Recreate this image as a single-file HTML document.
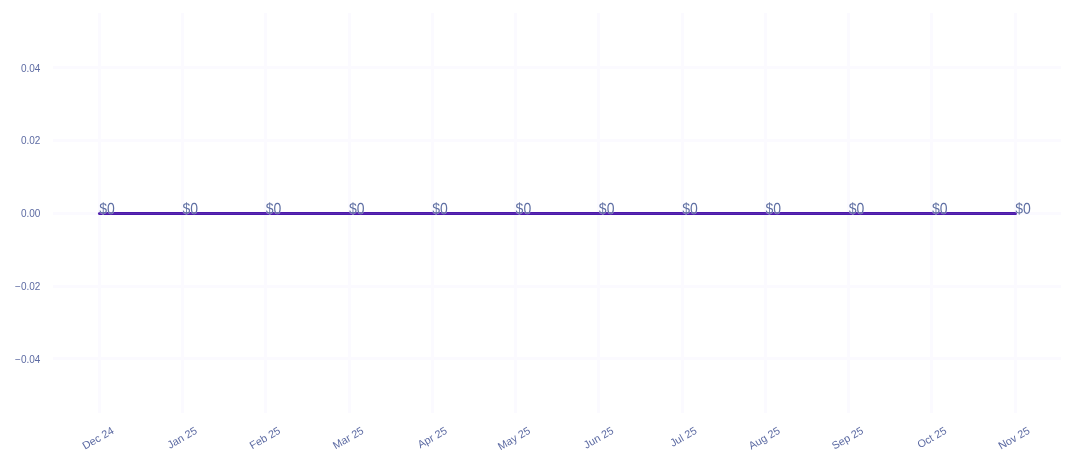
<!DOCTYPE html>
<html><head><meta charset="utf-8"><title>chart</title><style>html,body{margin:0;padding:0;background:#fff;overflow:hidden}svg{display:block;will-change:transform}text{font-family:"Liberation Sans",sans-serif}</style></head><body>
<svg width="1073" height="465" viewBox="0 0 1073 465">
<rect width="1073" height="465" fill="#fff"/>
<g stroke="#fbfaff" stroke-width="3" fill="none">
<path d="M99.50,13V413"/>
<path d="M182.50,13V413"/>
<path d="M265.50,13V413"/>
<path d="M349.50,13V413"/>
<path d="M432.50,13V413"/>
<path d="M515.50,13V413"/>
<path d="M598.50,13V413"/>
<path d="M682.50,13V413"/>
<path d="M765.50,13V413"/>
<path d="M848.50,13V413"/>
<path d="M931.50,13V413"/>
<path d="M1015.50,13V413"/>
<path d="M53,67.50H1061"/>
<path d="M53,140.50H1061"/>
<path d="M53,213.50H1061"/>
<path d="M53,286.50H1061"/>
<path d="M53,358.50H1061"/>
</g>
<path d="M99.50,213.5H1015.50" stroke="#4b19ab" stroke-width="3" fill="none" stroke-linecap="round"/>
<path d="M99.50,213.5H1015.50" stroke="#5a2ab0" stroke-width="1" fill="none" stroke-linecap="round"/>
<g font-size="14" fill="#6070a4" stroke="#fff" stroke-width="0.7" stroke-opacity="0.45" paint-order="stroke">
<text transform="translate(99.25,213.8) rotate(0.05) scale(1,1.12)" x="0" y="0">$0</text>
<text transform="translate(182.52,213.8) rotate(0.05) scale(1,1.12)" x="0" y="0">$0</text>
<text transform="translate(265.79,213.8) rotate(0.05) scale(1,1.12)" x="0" y="0">$0</text>
<text transform="translate(349.06,213.8) rotate(0.05) scale(1,1.12)" x="0" y="0">$0</text>
<text transform="translate(432.33,213.8) rotate(0.05) scale(1,1.12)" x="0" y="0">$0</text>
<text transform="translate(515.60,213.8) rotate(0.05) scale(1,1.12)" x="0" y="0">$0</text>
<text transform="translate(598.87,213.8) rotate(0.05) scale(1,1.12)" x="0" y="0">$0</text>
<text transform="translate(682.14,213.8) rotate(0.05) scale(1,1.12)" x="0" y="0">$0</text>
<text transform="translate(765.41,213.8) rotate(0.05) scale(1,1.12)" x="0" y="0">$0</text>
<text transform="translate(848.68,213.8) rotate(0.05) scale(1,1.12)" x="0" y="0">$0</text>
<text transform="translate(931.95,213.8) rotate(0.05) scale(1,1.12)" x="0" y="0">$0</text>
<text transform="translate(1015.22,213.8) rotate(0.05) scale(1,1.12)" x="0" y="0">$0</text>
</g>
<g font-size="10" fill="#5d6ba3" text-anchor="end">
<text x="40.4" y="72">0.04</text>
<text x="40.4" y="144">0.02</text>
<text x="40.4" y="217">0.00</text>
<text x="40.4" y="290">−0.02</text>
<text x="40.4" y="363">−0.04</text>
</g>
<g font-size="10.8" fill="#5d6ba3" text-anchor="end">
<text transform="translate(114.75,432.7) rotate(-30)" x="0" y="0">Dec 24</text>
<text transform="translate(198.02,432.7) rotate(-30)" x="0" y="0">Jan 25</text>
<text transform="translate(281.29,432.7) rotate(-30)" x="0" y="0">Feb 25</text>
<text transform="translate(364.56,432.7) rotate(-30)" x="0" y="0">Mar 25</text>
<text transform="translate(447.83,432.7) rotate(-30)" x="0" y="0">Apr 25</text>
<text transform="translate(531.10,432.7) rotate(-30)" x="0" y="0">May 25</text>
<text transform="translate(614.37,432.7) rotate(-30)" x="0" y="0">Jun 25</text>
<text transform="translate(697.64,432.7) rotate(-30)" x="0" y="0">Jul 25</text>
<text transform="translate(780.91,432.7) rotate(-30)" x="0" y="0">Aug 25</text>
<text transform="translate(864.18,432.7) rotate(-30)" x="0" y="0">Sep 25</text>
<text transform="translate(947.45,432.7) rotate(-30)" x="0" y="0">Oct 25</text>
<text transform="translate(1030.72,432.7) rotate(-30)" x="0" y="0">Nov 25</text>
</g>
</svg></body></html>
